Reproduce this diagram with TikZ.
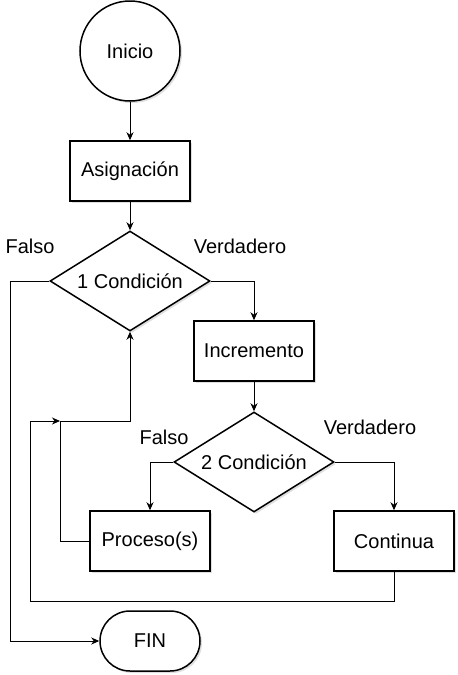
\documentclass[tikz,border=0pt]{standalone}
\usepackage{fontspec}
\setmainfont{Liberation Sans}
\usetikzlibrary{shapes.geometric,shadows,arrows.meta}

\begin{document}
\begin{tikzpicture}[
    x=1pt, y=-1pt,
    font=\fontsize{20}{24}\selectfont,
    >={Stealth[length=8pt,width=7pt,inset=2.5pt]},
    boxshadow/.style={drop shadow={shadow xshift=2pt, shadow yshift=-2pt, opacity=0.25}},
    procbox/.style={draw, line width=1.5pt, fill=white, minimum width=120pt, minimum height=60pt, boxshadow},
    decision/.style={draw, diamond, shape aspect=1.6, line width=1.5pt, fill=white, inner sep=0pt,
                     minimum width=160pt, minimum height=100pt, boxshadow},
    startnode/.style={draw, circle, line width=1.5pt, fill=white, minimum size=100pt, boxshadow},
    endnode/.style={draw, rounded corners=30pt, line width=1.5pt, fill=white,
                    minimum width=100pt, minimum height=60pt, boxshadow},
    flow/.style={->, line width=1pt}
]

\useasboundingbox (0, 0) rectangle (458, 675);

% ==========================================
% 1. SHAPES
% ==========================================

\node[startnode] (inicio) at (130, 51) {Inicio};
\node[procbox] (asig) at (130, 171) {Asignación};
\node[decision] (cond1) at (130, 281) {1 Condición};
\node[procbox] (incr) at (254, 351) {Incremento};
\node[decision] (cond2) at (254, 462) {2 Condición};
\node[procbox] (proc) at (150, 541) {Proceso(s)};
\node[procbox] (cont) at (394, 541) {Continua};
\node[endnode] (fin) at (150, 641) {FIN};

% ==========================================
% 2. BRANCH LABELS
% ==========================================

\node (falso1) at (30, 246) {Falso};
\node (verd1) at (240, 246) {Verdadero};
\node (falso2) at (164, 437) {Falso};
\node (verd2) at (370, 427) {Verdadero};

% ==========================================
% 3. CONNECTORS
% ==========================================

\coordinate (join) at (60, 421);
\coordinate (back) at (30, 601);
\coordinate (exit) at (10, 281);

\draw[flow] (inicio) -- (asig);
\draw[flow] (asig) -- (cond1);
\draw[flow] (cond1.east) -| (incr.north);
\draw[flow] (incr) -- (cond2);
\draw[flow] (cond2.west) -| (proc.north);
\draw[flow] (cond2.east) -| (cont.north);

% loops back to the first condition
\draw[flow] (proc.west) -| (join) -| (cond1.south);
\draw[flow] (cont.south) |- (back) |- (join);

% exit
\draw[flow] (cond1.west) -- (exit) |- (fin.west);

\end{tikzpicture}
\end{document}
